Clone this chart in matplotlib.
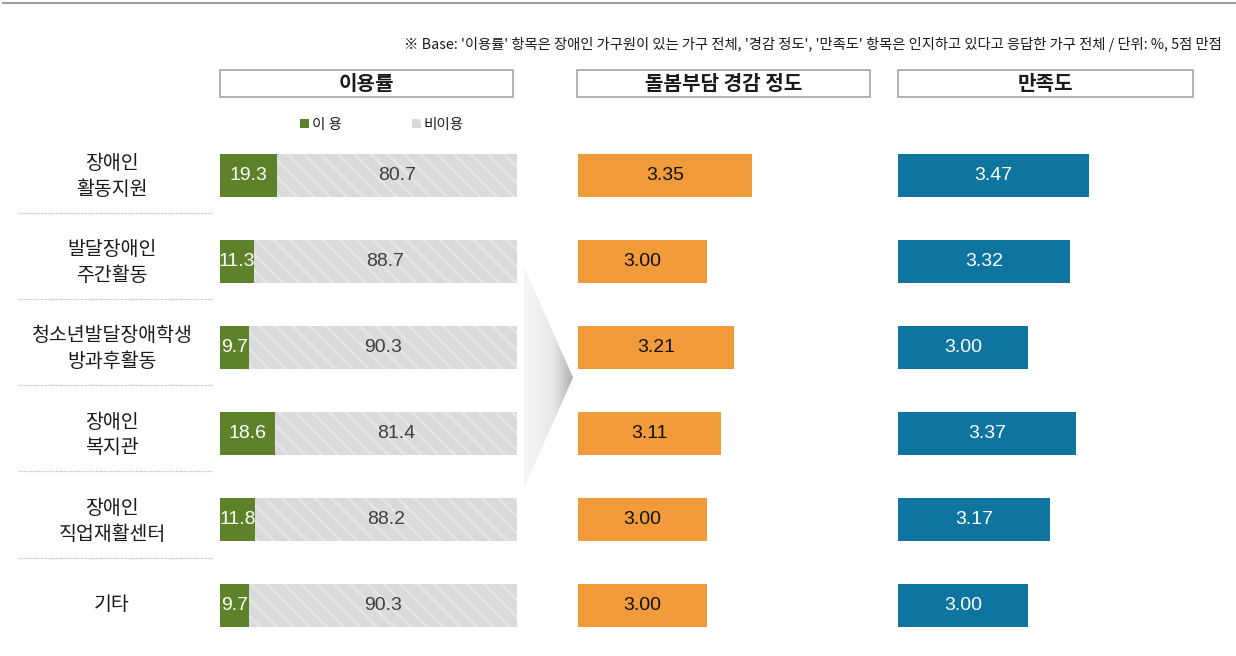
import numpy as np
import matplotlib.pyplot as plt
from matplotlib.patches import Rectangle, Polygon
from matplotlib.lines import Line2D
from matplotlib.colors import LinearSegmentedColormap

plt.rcParams['font.family'] = ['Noto Sans CJK KR', 'DejaVu Sans']
plt.rcParams['hatch.linewidth'] = 2.0

categories = ['장애인\n활동지원', '발달장애인\n주간활동', '청소년발달장애학생\n방과후활동',
              '장애인\n복지관', '장애인\n직업재활센터', '기타']
use_rate = [19.3, 11.3, 9.7, 18.6, 11.8, 9.7]
non_use = [80.7, 88.7, 90.3, 81.4, 88.2, 90.3]
relief = [3.35, 3.00, 3.21, 3.11, 3.00, 3.00]
satisfaction = [3.47, 3.32, 3.00, 3.37, 3.17, 3.00]
panel_titles = ['이용률', '돌봄부담 경감 정도', '만족도']
legend_labels = ['이 용', '비이용']
note = ("※ Base: '이용률' 항목은 장애인 가구원이 있는 가구 전체, '경감 정도', "
        "'만족도' 항목은 인지하고 있다고 응답한 가구 전체 / 단위: %, 5점 만점")

W, H = 1236, 656
GREEN = '#5e8229'
ORANGE = '#f29b3a'
BLUE = '#0e75a0'
num_font = ['Liberation Sans', 'DejaVu Sans']


def fx(px):
    return px / W


def fy(py):
    return 1 - py / H


def rect(left, top, right, bottom):
    return [fx(left), fy(bottom), fx(right) - fx(left), fy(top) - fy(bottom)]


fig = plt.figure(figsize=(W / 100, H / 100), dpi=100)

# rows span the same vertical band in every panel
top_px, bot_px = 132, 649
n = len(categories)
y = np.arange(n)
bh = 0.5

ax1 = fig.add_axes(rect(220, top_px, 517, bot_px))
ax2 = fig.add_axes(rect(578, top_px, 870, bot_px))
ax3 = fig.add_axes(rect(898, top_px, 1193, bot_px))

b_use = ax1.barh(y, use_rate, height=bh, color=GREEN, label=legend_labels[0])
b_non = ax1.barh(y, non_use, left=use_rate, height=bh, facecolor='#dadada',
                 edgecolor='#e5e5e5', linewidth=0, hatch='\\\\',
                 label=legend_labels[1])
for i in range(n):
    ax1.text(use_rate[i] / 2, i, f'{use_rate[i]:.1f}', ha='center', va='center',
             color='white', fontsize=14, family=num_font)
    ax1.text(use_rate[i] + non_use[i] / 2, i, f'{non_use[i]:.1f}', ha='center',
             va='center', color='#404040', fontsize=14, family=num_font)
ax1.set_xlim(0, 100)

ax2.barh(y, [v - 2 for v in relief], left=2, height=bh, color=ORANGE)
for i, v in enumerate(relief):
    ax2.text(2 + (v - 2) / 2, i, f'{v:.2f}', ha='center', va='center',
             color='#111111', fontsize=14, family=num_font)
ax2.set_xlim(2, 4.27)

ax3.barh(y, [v - 2 for v in satisfaction], left=2, height=bh, color=BLUE)
for i, v in enumerate(satisfaction):
    ax3.text(2 + (v - 2) / 2, i, f'{v:.2f}', ha='center', va='center',
             color='white', fontsize=14, family=num_font)
ax3.set_xlim(2, 4.27)

for ax in (ax1, ax2, ax3):
    ax.set_ylim(n - 0.5, -0.5)
    ax.set_xticks([])
    ax.set_yticks([])
    for s in ax.spines.values():
        s.set_visible(False)
    ax.patch.set_alpha(0)

# category labels (nudged up a touch) and dotted separators
ax1.set_yticks(y - 0.04)
ax1.set_yticklabels(categories, ha='center', fontsize=14, color='#1a1a1a',
                    linespacing=1.3)
ax1.tick_params(axis='y', length=0, pad=108 * 0.72)
for i in range(n - 1):
    ax1.plot([-0.68, -0.024], [i + 0.44, i + 0.44], transform=ax1.get_yaxis_transform(),
             color='#b8b8b8', lw=0.9, ls=(0, (1, 1)), clip_on=False)

# panel title boxes
for (l, r), t in zip([(220, 513), (577, 870), (898, 1193)], panel_titles):
    fig.add_artist(Rectangle((fx(l), fy(97)), fx(r) - fx(l), fy(70) - fy(97),
                             transform=fig.transFigure, facecolor='white',
                             edgecolor='#a6a6a6', lw=1.2))
    fig.text(fx((l + r) / 2), fy(84), t, ha='center', va='center', fontsize=14.5,
             fontweight='bold', color='#1a1a1a')

fig.legend(handles=[b_use, b_non], loc='center', bbox_to_anchor=(fx(382), fy(125)),
           ncol=2, frameon=False, fontsize=10.5, handlelength=0.6, handleheight=0.6,
           handletextpad=0.2, columnspacing=4.8, labelcolor='#1a1a1a')

# gradient arrow between panels
axa = fig.add_axes(rect(524, 267, 573, 488))
grad = np.linspace(0, 1, 256).reshape(1, -1) ** 1.4
arrow_cmap = LinearSegmentedColormap.from_list('arrow', ['#f5f5f5', '#e6e6e6', '#aeaeae'])
im = axa.imshow(grad, extent=(0, 1, 0, 1), aspect='auto', cmap=arrow_cmap)
tri = Polygon([(0, 0), (0, 1), (1, 0.5)], closed=True, transform=axa.transData,
              facecolor='none', edgecolor='none')
axa.add_patch(tri)
im.set_clip_path(tri)
axa.set_xlim(0, 1)
axa.set_ylim(0, 1)
axa.axis('off')

# top rule and note
fig.add_artist(Line2D([fx(3), 1], [fy(3), fy(3)], transform=fig.transFigure,
                      color='#a0a0a0', lw=1.5))
fig.text(fx(1222), fy(44), note, ha='right', va='center', fontsize=10.3, color='#1a1a1a')

fig.savefig('out.png', dpi=100)
